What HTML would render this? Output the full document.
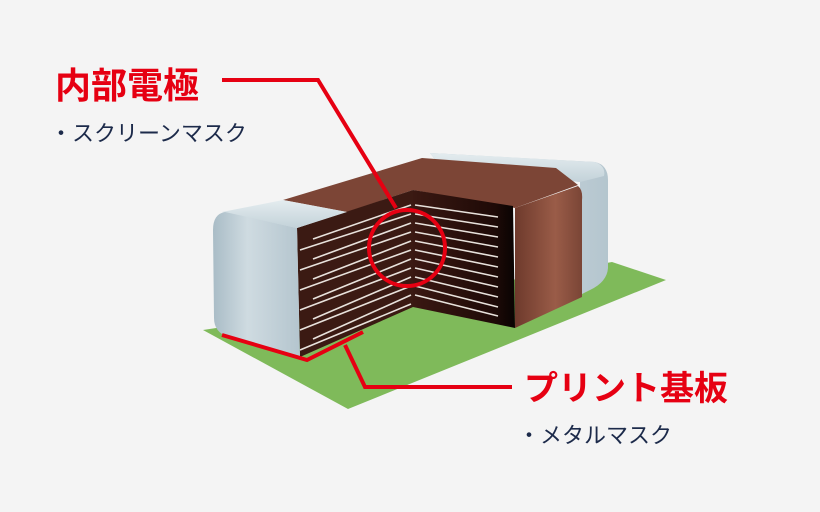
<!DOCTYPE html>
<html><head><meta charset="utf-8"><style>
html,body{margin:0;padding:0;background:#f4f4f4;}
svg{display:block}
.t{font-family:"Liberation Sans","Noto Sans CJK JP",sans-serif;}
</style></head><body>
<svg width="820" height="512" viewBox="0 0 820 512" xmlns="http://www.w3.org/2000/svg">
<defs>
<linearGradient id="cap" x1="0" y1="0" x2="1" y2="0">
<stop offset="0" stop-color="#a9bcc6"/><stop offset="0.4" stop-color="#cfdbe1"/><stop offset="1" stop-color="#b4c5ce"/></linearGradient>
<linearGradient id="capTop" x1="0" y1="0" x2="0" y2="1">
<stop offset="0" stop-color="#e4ecef"/><stop offset="1" stop-color="#c3d2d9"/></linearGradient>
<linearGradient id="brown" x1="0" y1="0" x2="1" y2="0">
<stop offset="0" stop-color="#6e3a2c"/><stop offset="0.6" stop-color="#9a5c48"/><stop offset="1" stop-color="#7a4536"/></linearGradient>
<linearGradient id="cutR" x1="0" y1="0" x2="1" y2="0">
<stop offset="0" stop-color="#3a1812"/><stop offset="0.8" stop-color="#1e0a07"/><stop offset="1" stop-color="#080302"/></linearGradient>
</defs>
<rect width="820" height="512" fill="#f4f4f4"/>
<polygon points="203,330 348,409 666,280 612,262 400,300" fill="#7fba5a"/>
<path d="M430,153 L595,162 Q608,165 608,180 L608,268 Q607,282 590,290 L580,295 L580,182 L440,166 Z" fill="url(#cap)"/>
<path d="M430,153 L595,162 Q606,166 604,176 L580,182 L440,166 Z" fill="url(#capTop)"/>
<polygon points="283,200 422,158 556,168 578,185 515,208 413,190 347,212" fill="#7c4536"/>
<path d="M515,208 L578,186 Q583,190 582,200 L582,297 L515,328 Z" fill="url(#brown)"/>
<polygon points="297,228 413,190 413,307 300,357" fill="#3b1a13"/>
<polygon points="413,190 513,206 515,328 413,307" fill="url(#cutR)"/>
<g stroke="#e8e2dc" stroke-width="1.6">
<line x1="313" y1="239" x2="411" y2="205"/>
<line x1="300" y1="250" x2="411" y2="214"/>
<line x1="313" y1="259" x2="411" y2="223"/>
<line x1="300" y1="270" x2="411" y2="232"/>
<line x1="313" y1="279" x2="411" y2="241"/>
<line x1="300" y1="290" x2="411" y2="250"/>
<line x1="313" y1="299" x2="411" y2="259"/>
<line x1="300" y1="310" x2="411" y2="268"/>
<line x1="313" y1="319" x2="411" y2="277"/>
<line x1="300" y1="330" x2="411" y2="286"/>
<line x1="313" y1="339" x2="411" y2="295"/>
<line x1="300" y1="350" x2="411" y2="304"/>
<line x1="415" y1="205" x2="498" y2="217"/>
<line x1="415" y1="214" x2="498" y2="227"/>
<line x1="415" y1="223" x2="498" y2="237"/>
<line x1="415" y1="232" x2="498" y2="247"/>
<line x1="415" y1="241" x2="498" y2="257"/>
<line x1="415" y1="250" x2="498" y2="267"/>
<line x1="415" y1="259" x2="498" y2="277"/>
<line x1="415" y1="268" x2="498" y2="287"/>
<line x1="415" y1="277" x2="498" y2="297"/>
<line x1="415" y1="286" x2="498" y2="307"/>
<line x1="415" y1="295" x2="498" y2="316"/>
</g>
<path d="M222,212 L283,200 L347,212 L297,228 Z" fill="url(#capTop)"/>
<path d="M225,212 L297,228 L300,357 L228,337 Q214,332 214,318 L213,230 Q213,214 225,212 Z" fill="url(#cap)"/>
<g stroke="#e60012" stroke-width="4" fill="none">
<polyline points="222,80 318,80 396,208"/>
<circle cx="407" cy="248" r="38"/>
<polyline points="222,335 307,360 363,332"/>
<polyline points="345,345 365,387 512,387"/>
</g>
<text class="t" x="55" y="98" font-size="36" font-weight="bold" fill="#e60012">内部電極</text>
<text class="t" x="50" y="141" font-size="22" fill="#1c2a4a">・スクリーンマスク</text>
<text class="t" x="524" y="400" font-size="34" font-weight="bold" fill="#e60012">プリント基板</text>
<text class="t" x="518" y="443" font-size="22" fill="#1c2a4a">・メタルマスク</text>
</svg>
</body></html>
